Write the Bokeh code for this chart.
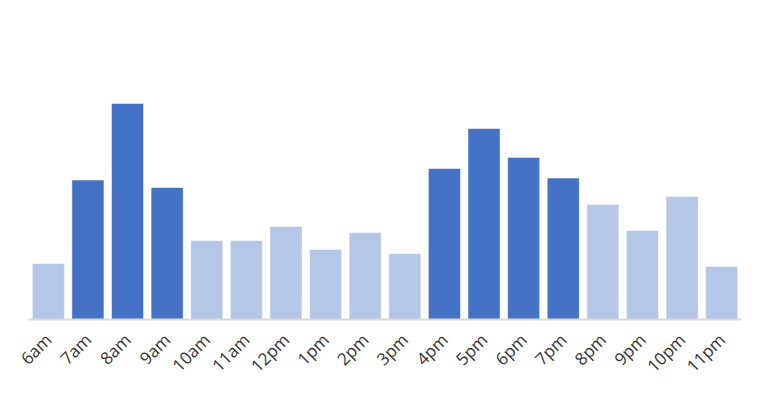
import math
from bokeh.plotting import figure
from bokeh.models import ColumnDataSource, Range1d, FactorRange
from bokeh.transform import factor_cmap
from bokeh.embed import file_html
from bokeh.resources import INLINE

hours = ["6am", "7am", "8am", "9am", "10am", "11am", "12pm", "1pm", "2pm",
         "3pm", "4pm", "5pm", "6pm", "7pm", "8pm", "9pm", "10pm", "11pm"]
values = [56, 139.5, 216, 132, 79, 79, 93, 70, 87,
          66, 151, 191, 162, 141.5, 115, 89, 123, 53]
group = ["off", "peak", "peak", "peak", "off", "off", "off", "off", "off",
         "off", "peak", "peak", "peak", "peak", "off", "off", "off", "off"]

source = ColumnDataSource(dict(hour=hours, value=values, group=group))

p = figure(x_range=FactorRange(*hours, range_padding=0), y_range=Range1d(0, 300),
           width=765, height=395, output_backend="svg", toolbar_location=None,
           min_border_left=28, min_border_right=24, min_border_top=19, min_border_bottom=76)

p.vbar(x="hour", top="value", width=0.81, source=source,
       fill_color=factor_cmap("group", ["#4472C4", "#B4C7E7"], ["peak", "off"]),
       line_color="white", line_alpha=0.5, line_width=1)

p.yaxis.visible = False
p.xgrid.visible = False
p.ygrid.visible = False
p.outline_line_color = None
p.xaxis.axis_line_color = "#d9d9d9"
p.xaxis.axis_line_width = 2
p.xaxis.major_tick_line_color = None
p.xaxis.minor_tick_line_color = None
p.xaxis.major_label_orientation = math.pi / 4
p.xaxis.major_label_text_font = "Open Sans"
p.xaxis.major_label_text_font_size = "17px"
p.xaxis.major_label_text_color = "#333333"
p.xaxis.major_label_standoff = 11
p.background_fill_color = "white"
p.border_fill_color = "white"

open("out.html", "w").write(file_html(p, INLINE))
